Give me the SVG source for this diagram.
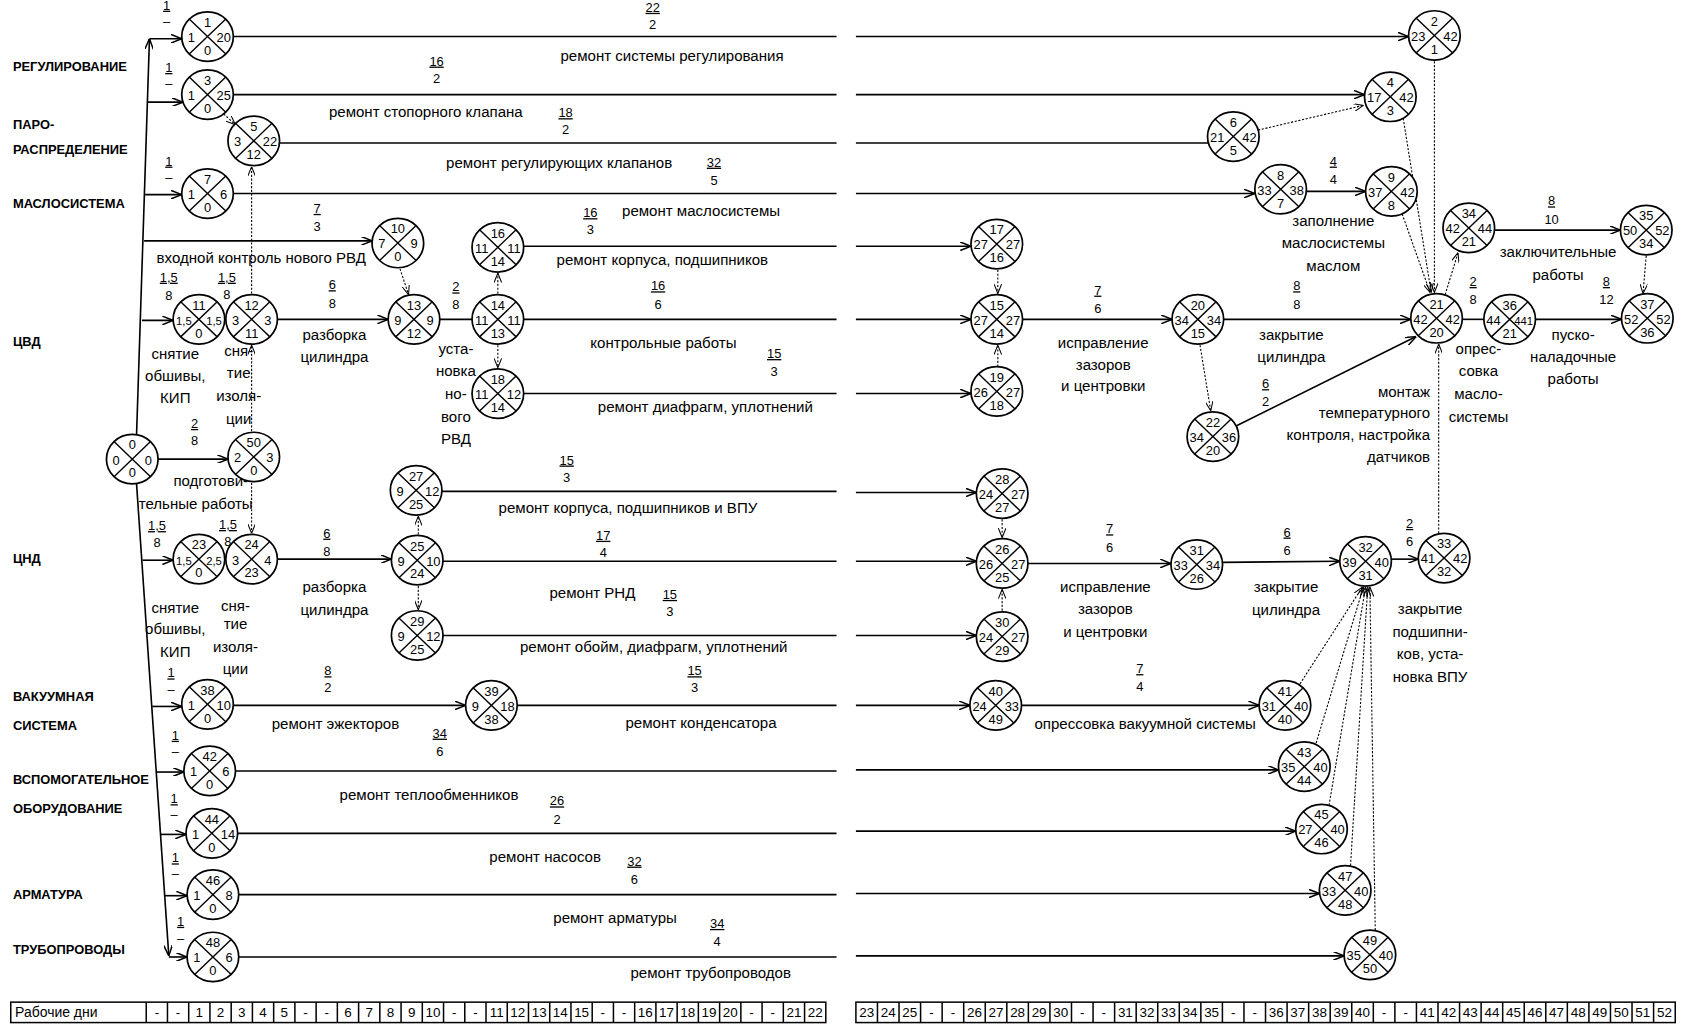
<svg xmlns="http://www.w3.org/2000/svg" xmlns:xlink="http://www.w3.org/1999/xlink" width="1686" height="1025" viewBox="0 0 1686 1025">
<style>
text{font-family:"Liberation Sans",Arial,sans-serif;fill:#000}
.nt{font-size:12px;text-anchor:middle}
.sm{font-size:10.5px}
.lb{font-size:14px;text-anchor:middle}
.rt{text-anchor:end}
.hd{font-size:12px;font-weight:bold}
.fr{font-size:12px;text-anchor:middle}
.u{text-decoration:underline}
.c{stroke:#000;stroke-width:1.5;fill:none}
.ar{marker-end:url(#a)}
.d{stroke:#000;stroke-width:1;stroke-dasharray:2 1.5;fill:none;marker-end:url(#ad)}
.tb{fill:none;stroke:#000;stroke-width:1.4}
.tt{font-size:12.5px;text-anchor:middle}
</style>
<defs>
<marker id="a" viewBox="0 0 10 8" refX="10" refY="4" markerWidth="10" markerHeight="8" orient="auto" markerUnits="userSpaceOnUse"><path d="M0,0 L10,4 L0,8" fill="none" stroke="#000" stroke-width="1.4"/></marker>
<marker id="ad" viewBox="0 0 10 8" refX="10" refY="4" markerWidth="9" markerHeight="7" orient="auto" markerUnits="userSpaceOnUse"><path d="M0,0 L10,4 L0,8" fill="none" stroke="#000" stroke-width="1.1"/></marker>
<g id="nd"><ellipse rx="24" ry="23" fill="#fff" stroke="#000" stroke-width="1.6"/><line x1="-17" y1="-16.3" x2="17" y2="16.3" stroke="#000" stroke-width="1.3"/><line x1="-17" y1="16.3" x2="17" y2="-16.3" stroke="#000" stroke-width="1.3"/></g>
</defs>
<rect width="1686" height="1025" fill="#fff"/>
<g transform="scale(1.07526)">

<g id="headers" class="hd">
<text x="12" y="66">РЕГУЛИРОВАНИЕ</text>
<text x="12" y="120">ПАРО-</text>
<text x="12" y="143">РАСПРЕДЕЛЕНИЕ</text>
<text x="12" y="193">МАСЛОСИСТЕМА</text>
<text x="12" y="322">ЦВД</text>
<text x="12" y="524">ЦНД</text>
<text x="12" y="652">ВАКУУМНАЯ</text>
<text x="12" y="679">СИСТЕМА</text>
<text x="12" y="729">ВСПОМОГАТЕЛЬНОЕ</text>
<text x="12" y="756">ОБОРУДОВАНИЕ</text>
<text x="12" y="836">АРМАТУРА</text>
<text x="12" y="887">ТРУБОПРОВОДЫ</text>
</g>

<g id="connectors">
<path class="c ar" d="M127,404 L139,36"/>
<path class="c ar" d="M127,450 L157,889"/>
<path class="c ar" d="M139,36 L169,36"/>
<path class="c ar" d="M137,95 L170,95"/>
<path class="c ar" d="M135,181 L169,181"/>
<path class="c ar" d="M134,224 L346,224"/>
<path class="c ar" d="M132,298 L161,298"/>
<path class="c ar" d="M132.6,521 L161,521"/>
<path class="c ar" d="M141.6,657 L169,657"/>
<path class="c ar" d="M145.7,718 L171,718"/>
<path class="c ar" d="M149.5,776 L173,776"/>
<path class="c ar" d="M153.3,833 L174,833"/>
<path class="c ar" d="M157,890 L174,890"/>
<path class="c ar" d="M147,427 L212,427"/>
<path class="c" d="M217,34 L778,34"/><path class="c ar" d="M796,34 L1310,34"/>
<path class="c" d="M217,88 L778,88"/><path class="c ar" d="M796,88 L1269,88"/>
<path class="c" d="M260,133 L778,133"/><path class="c" d="M796,133 L1124,133"/>
<path class="c" d="M217,180 L778,180"/><path class="c ar" d="M796,180 L1167,180"/>
<path class="c ar" d="M1215,178 L1270,178"/>
<path class="c" d="M487,229 L778,229"/><path class="c ar" d="M796,229 L903,229"/>
<path class="c ar" d="M1390,214 L1507,214"/>
<path class="c ar" d="M258,297 L361,297"/>
<path class="c" d="M409,297 L439,297"/>
<path class="c" d="M487,297 L778,297"/><path class="c ar" d="M796,297 L903,297"/>
<path class="c ar" d="M951,297 L1090,297"/>
<path class="c ar" d="M1138,297 L1312,297"/>
<path class="c" d="M1360,297 L1380,297"/>
<path class="c ar" d="M1428,297 L1508,297"/>
<path class="c" d="M487,366 L778,366"/><path class="c ar" d="M796,366 L903,366"/>
<path class="c ar" d="M1150,396 L1317,313"/>
<path class="c" d="M411,457 L778,457"/><path class="c ar" d="M796,458 L908,458"/>
<path class="c ar" d="M258,520 L364,520"/>
<path class="c" d="M412,522 L778,522"/><path class="c ar" d="M796,522 L908,522"/>
<path class="c" d="M412,591 L778,591"/><path class="c ar" d="M796,591 L908,591"/>
<path class="c ar" d="M956,524 L1089,524"/>
<path class="c ar" d="M1137,523 L1246,522"/>
<path class="c ar" d="M1294,520 L1319,520"/>
<path class="c ar" d="M217,656 L433,656"/>
<path class="c" d="M481,656 L778,656"/><path class="c ar" d="M796,656 L902,656"/>
<path class="c ar" d="M950,656 L1171,656"/>
<path class="c" d="M219,717 L778,717"/><path class="c ar" d="M796,716 L1189,716"/>
<path class="c" d="M221,775 L778,775"/><path class="c ar" d="M796,773 L1205,773"/>
<path class="c" d="M222,832 L778,832"/><path class="c ar" d="M796,831 L1227,831"/>
<path class="c" d="M222,890 L778,890"/><path class="c ar" d="M796,889 L1250,889"/>
<path class="d" d="M208,106 L219,116"/>
<path class="d" d="M234,273 L234,155"/>
<path class="d" d="M234,401 L234,321"/>
<path class="d" d="M234,449 L234,496"/>
<path class="d" d="M372,250 L380,274"/>
<path class="d" d="M463,273 L463,254"/>
<path class="d" d="M463,321 L463,342"/>
<path class="d" d="M928,251 L928,273"/>
<path class="d" d="M928,341 L928,321"/>
<path class="d" d="M389,497 L389,480"/>
<path class="d" d="M389,545 L389,567"/>
<path class="d" d="M932,483 L932,500"/>
<path class="d" d="M932,568 L932,548"/>
<path class="d" d="M1116,321 L1126,382"/>
<path class="d" d="M1170,121 L1268,98"/>
<path class="d" d="M1334,57 L1334,272"/>
<path class="d" d="M1305,110 L1331,272"/>
<path class="d" d="M1304,199 L1330,272"/>
<path class="d" d="M1344,274 L1356,235"/>
<path class="d" d="M1531,238 L1528,273"/>
<path class="d" d="M1338,496 L1338,320"/>
<path class="d" d="M1209,636 L1267,546"/>
<path class="d" d="M1224,691 L1268,546"/>
<path class="d" d="M1236,749 L1270,546"/>
<path class="d" d="M1256,805 L1272,546"/>
<path class="d" d="M1279,865 L1274,546"/>
</g>

<g id="nodes" class="nt">
<g id="n0" transform="translate(123,427)"><use href="#nd"/><text y="-9">0</text><text x="-15" y="5">0</text><text x="15" y="5">0</text><text y="17">0</text></g>
<g id="n50" transform="translate(236,425)"><use href="#nd"/><text y="-9">50</text><text x="-15" y="5">2</text><text x="15" y="5">3</text><text y="17">0</text></g>
<g id="n1" transform="translate(193,34)"><use href="#nd"/><text y="-9">1</text><text x="-15" y="5">1</text><text x="15" y="5">20</text><text y="17">0</text></g>
<g id="n2" transform="translate(1334,33)"><use href="#nd"/><text y="-9">2</text><text x="-15" y="5">23</text><text x="15" y="5">42</text><text y="17">1</text></g>
<g id="n3" transform="translate(193,88)"><use href="#nd"/><text y="-9">3</text><text x="-15" y="5">1</text><text x="15" y="5">25</text><text y="17">0</text></g>
<g id="n4" transform="translate(1293,90)"><use href="#nd"/><text y="-9">4</text><text x="-15" y="5">17</text><text x="15" y="5">42</text><text y="17">3</text></g>
<g id="n5" transform="translate(236,131)"><use href="#nd"/><text y="-9">5</text><text x="-15" y="5">3</text><text x="15" y="5">22</text><text y="17">12</text></g>
<g id="n6" transform="translate(1147,127)"><use href="#nd"/><text y="-9">6</text><text x="-15" y="5">21</text><text x="15" y="5">42</text><text y="17">5</text></g>
<g id="n7" transform="translate(193,180)"><use href="#nd"/><text y="-9">7</text><text x="-15" y="5">1</text><text x="15" y="5">6</text><text y="17">0</text></g>
<g id="n8" transform="translate(1191,176)"><use href="#nd"/><text y="-9">8</text><text x="-15" y="5">33</text><text x="15" y="5">38</text><text y="17">7</text></g>
<g id="n9" transform="translate(1294,178)"><use href="#nd"/><text y="-9">9</text><text x="-15" y="5">37</text><text x="15" y="5">42</text><text y="17">8</text></g>
<g id="n10" transform="translate(370,226)"><use href="#nd"/><text y="-9">10</text><text x="-15" y="5">7</text><text x="15" y="5">9</text><text y="17">0</text></g>
<g id="n16" transform="translate(463,230)"><use href="#nd"/><text y="-9">16</text><text x="-15" y="5">11</text><text x="15" y="5">11</text><text y="17">14</text></g>
<g id="n17" transform="translate(927,227)"><use href="#nd"/><text y="-9">17</text><text x="-15" y="5">27</text><text x="15" y="5">27</text><text y="17">16</text></g>
<g id="n34" transform="translate(1366,212)"><use href="#nd"/><text y="-9">34</text><text x="-15" y="5">42</text><text x="15" y="5">44</text><text y="17">21</text></g>
<g id="n35" transform="translate(1531,214)"><use href="#nd"/><text y="-9">35</text><text x="-15" y="5">50</text><text x="15" y="5">52</text><text y="17">34</text></g>
<g id="n11" transform="translate(185,297)"><use href="#nd"/><text y="-9">11</text><text class="sm" x="-14" y="5">1,5</text><text class="sm" x="14" y="5">1,5</text><text y="17">0</text></g>
<g id="n12" transform="translate(234,297)"><use href="#nd"/><text y="-9">12</text><text x="-15" y="5">3</text><text x="15" y="5">3</text><text y="17">11</text></g>
<g id="n13" transform="translate(385,297)"><use href="#nd"/><text y="-9">13</text><text x="-15" y="5">9</text><text x="15" y="5">9</text><text y="17">12</text></g>
<g id="n14" transform="translate(463,297)"><use href="#nd"/><text y="-9">14</text><text x="-15" y="5">11</text><text x="15" y="5">11</text><text y="17">13</text></g>
<g id="n15" transform="translate(927,297)"><use href="#nd"/><text y="-9">15</text><text x="-15" y="5">27</text><text x="15" y="5">27</text><text y="17">14</text></g>
<g id="n20" transform="translate(1114,297)"><use href="#nd"/><text y="-9">20</text><text x="-15" y="5">34</text><text x="15" y="5">34</text><text y="17">15</text></g>
<g id="n21" transform="translate(1336,296)"><use href="#nd"/><text y="-9">21</text><text x="-15" y="5">42</text><text x="15" y="5">42</text><text y="17">20</text></g>
<g id="n36" transform="translate(1404,297)"><use href="#nd"/><text y="-9">36</text><text x="-15" y="5">44</text><text class="sm" x="13" y="5">441</text><text y="17">21</text></g>
<g id="n37" transform="translate(1532,296)"><use href="#nd"/><text y="-9">37</text><text x="-15" y="5">52</text><text x="15" y="5">52</text><text y="17">36</text></g>
<g id="n18" transform="translate(463,366)"><use href="#nd"/><text y="-9">18</text><text x="-15" y="5">11</text><text x="15" y="5">12</text><text y="17">14</text></g>
<g id="n19" transform="translate(927,364)"><use href="#nd"/><text y="-9">19</text><text x="-15" y="5">26</text><text x="15" y="5">27</text><text y="17">18</text></g>
<g id="n22" transform="translate(1128,406)"><use href="#nd"/><text y="-9">22</text><text x="-15" y="5">34</text><text x="15" y="5">36</text><text y="17">20</text></g>
<g id="n27" transform="translate(387,456)"><use href="#nd"/><text y="-9">27</text><text x="-15" y="5">9</text><text x="15" y="5">12</text><text y="17">25</text></g>
<g id="n28" transform="translate(932,459)"><use href="#nd"/><text y="-9">28</text><text x="-15" y="5">24</text><text x="15" y="5">27</text><text y="17">27</text></g>
<g id="n23" transform="translate(185,520)"><use href="#nd"/><text y="-9">23</text><text class="sm" x="-14" y="5">1,5</text><text class="sm" x="14" y="5">2,5</text><text y="17">0</text></g>
<g id="n24" transform="translate(234,520)"><use href="#nd"/><text y="-9">24</text><text x="-15" y="5">3</text><text x="15" y="5">4</text><text y="17">23</text></g>
<g id="n25" transform="translate(388,521)"><use href="#nd"/><text y="-9">25</text><text x="-15" y="5">9</text><text x="15" y="5">10</text><text y="17">24</text></g>
<g id="n26" transform="translate(932,524)"><use href="#nd"/><text y="-9">26</text><text x="-15" y="5">26</text><text x="15" y="5">27</text><text y="17">25</text></g>
<g id="n31" transform="translate(1113,525)"><use href="#nd"/><text y="-9">31</text><text x="-15" y="5">33</text><text x="15" y="5">34</text><text y="17">26</text></g>
<g id="n32" transform="translate(1270,522)"><use href="#nd"/><text y="-9">32</text><text x="-15" y="5">39</text><text x="15" y="5">40</text><text y="17">31</text></g>
<g id="n33" transform="translate(1343,519)"><use href="#nd"/><text y="-9">33</text><text x="-15" y="5">41</text><text x="15" y="5">42</text><text y="17">32</text></g>
<g id="n29" transform="translate(388,591)"><use href="#nd"/><text y="-9">29</text><text x="-15" y="5">9</text><text x="15" y="5">12</text><text y="17">25</text></g>
<g id="n30" transform="translate(932,592)"><use href="#nd"/><text y="-9">30</text><text x="-15" y="5">24</text><text x="15" y="5">27</text><text y="17">29</text></g>
<g id="n38" transform="translate(193,655)"><use href="#nd"/><text y="-9">38</text><text x="-15" y="5">1</text><text x="15" y="5">10</text><text y="17">0</text></g>
<g id="n39" transform="translate(457,656)"><use href="#nd"/><text y="-9">39</text><text x="-15" y="5">9</text><text x="15" y="5">18</text><text y="17">38</text></g>
<g id="n40" transform="translate(926,656)"><use href="#nd"/><text y="-9">40</text><text x="-15" y="5">24</text><text x="15" y="5">33</text><text y="17">49</text></g>
<g id="n41" transform="translate(1195,656)"><use href="#nd"/><text y="-9">41</text><text x="-15" y="5">31</text><text x="15" y="5">40</text><text y="17">40</text></g>
<g id="n42" transform="translate(195,717)"><use href="#nd"/><text y="-9">42</text><text x="-15" y="5">1</text><text x="15" y="5">6</text><text y="17">0</text></g>
<g id="n43" transform="translate(1213,713)"><use href="#nd"/><text y="-9">43</text><text x="-15" y="5">35</text><text x="15" y="5">40</text><text y="17">44</text></g>
<g id="n44" transform="translate(197,775)"><use href="#nd"/><text y="-9">44</text><text x="-15" y="5">1</text><text x="15" y="5">14</text><text y="17">0</text></g>
<g id="n45" transform="translate(1229,771)"><use href="#nd"/><text y="-9">45</text><text x="-15" y="5">27</text><text x="15" y="5">40</text><text y="17">46</text></g>
<g id="n46" transform="translate(198,832)"><use href="#nd"/><text y="-9">46</text><text x="-15" y="5">1</text><text x="15" y="5">8</text><text y="17">0</text></g>
<g id="n47" transform="translate(1251,828)"><use href="#nd"/><text y="-9">47</text><text x="-15" y="5">33</text><text x="15" y="5">40</text><text y="17">48</text></g>
<g id="n48" transform="translate(198,890)"><use href="#nd"/><text y="-9">48</text><text x="-15" y="5">1</text><text x="15" y="5">6</text><text y="17">0</text></g>
<g id="n49" transform="translate(1274,888)"><use href="#nd"/><text y="-9">49</text><text x="-15" y="5">35</text><text x="15" y="5">40</text><text y="17">50</text></g>
</g>

<g id="fractions" class="fr">
<text class="u" x="607" y="11">22</text><text x="607" y="27">2</text>
<text class="u" x="406" y="61">16</text><text x="406" y="77">2</text>
<text class="u" x="526" y="109">18</text><text x="526" y="125">2</text>
<text class="u" x="664" y="155">32</text><text x="664" y="172">5</text>
<text class="u" x="549" y="202">16</text><text x="549" y="218">3</text>
<text class="u" x="295" y="198">7</text><text x="295" y="215">3</text>
<text class="u" x="1240" y="154">4</text><text x="1240" y="171">4</text>
<text class="u" x="1443" y="191">8</text><text x="1443" y="208">10</text>
<text class="u" x="155" y="9">1</text><text x="155" y="24">–</text>
<text class="u" x="157" y="67">1</text><text x="157" y="82">–</text>
<text class="u" x="157" y="154">1</text><text x="157" y="169">–</text>
<text class="u" x="157" y="262">1,5</text><text x="157" y="279">8</text>
<text class="u" x="211" y="262">1,5</text><text x="211" y="278">8</text>
<text class="u" x="309" y="269">6</text><text x="309" y="286">8</text>
<text class="u" x="424" y="271">2</text><text x="424" y="287">8</text>
<text class="u" x="612" y="270">16</text><text x="612" y="287">6</text>
<text class="u" x="720" y="333">15</text><text x="720" y="350">3</text>
<text class="u" x="1021" y="274">7</text><text x="1021" y="291">6</text>
<text class="u" x="1206" y="270">8</text><text x="1206" y="287">8</text>
<text class="u" x="1177" y="361">6</text><text x="1177" y="378">2</text>
<text class="u" x="1370" y="266">2</text><text x="1370" y="283">8</text>
<text class="u" x="1494" y="266">8</text><text x="1494" y="283">12</text>
<text class="u" x="181" y="398">2</text><text x="181" y="414">8</text>
<text class="u" x="527" y="432">15</text><text x="527" y="448">3</text>
<text class="u" x="146" y="493">1,5</text><text x="146" y="509">8</text>
<text class="u" x="212" y="492">1,5</text><text x="212" y="508">8</text>
<text class="u" x="304" y="500">6</text><text x="304" y="517">8</text>
<text class="u" x="561" y="502">17</text><text x="561" y="518">4</text>
<text class="u" x="623" y="557">15</text><text x="623" y="573">3</text>
<text class="u" x="1032" y="496">7</text><text x="1032" y="513">6</text>
<text class="u" x="1197" y="499">6</text><text x="1197" y="516">6</text>
<text class="u" x="1311" y="491">2</text><text x="1311" y="508">6</text>
<text class="u" x="159" y="630">1</text><text x="159" y="645">–</text>
<text class="u" x="305" y="628">8</text><text x="305" y="644">2</text>
<text class="u" x="646" y="628">15</text><text x="646" y="644">3</text>
<text class="u" x="1060" y="626">7</text><text x="1060" y="643">4</text>
<text class="u" x="409" y="686">34</text><text x="409" y="703">6</text>
<text class="u" x="163" y="688">1</text><text x="163" y="703">–</text>
<text class="u" x="518" y="749">26</text><text x="518" y="766">2</text>
<text class="u" x="162" y="747">1</text><text x="162" y="762">–</text>
<text class="u" x="590" y="805">32</text><text x="590" y="822">6</text>
<text class="u" x="163" y="802">1</text><text x="163" y="817">–</text>
<text class="u" x="667" y="863">34</text><text x="667" y="880">4</text>
<text class="u" x="168" y="861">1</text><text x="168" y="877">–</text>
</g>

<g id="labels" class="lb">
<text x="625" y="57">ремонт системы регулирования</text>
<text x="396" y="109">ремонт стопорного клапана</text>
<text x="520" y="156">ремонт регулирующих клапанов</text>
<text x="652" y="201">ремонт маслосистемы</text>
<text x="243" y="245">входной контроль нового РВД</text>
<text x="616" y="246">ремонт корпуса, подшипников</text>
<text x="1240" y="210">заполнение</text><text x="1240" y="231">маслосистемы</text><text x="1240" y="252">маслом</text>
<text x="1449" y="239">заключительные</text><text x="1449" y="260">работы</text>
<text x="163" y="334">снятие</text><text x="163" y="354">обшивы,</text><text x="163" y="375">КИП</text>
<text x="222" y="331">сня-</text><text x="222" y="352">тие</text><text x="222" y="373">изоля-</text><text x="222" y="394">ции</text>
<text x="311" y="316">разборка</text><text x="311" y="337">цилиндра</text>
<text x="424" y="329">уста-</text><text x="424" y="350">новка</text><text x="424" y="371">но-</text><text x="424" y="392">вого</text><text x="424" y="413">РВД</text>
<text x="617" y="324">контрольные работы</text>
<text x="656" y="383">ремонт диафрагм, уплотнений</text>
<text x="1026" y="324">исправление</text><text x="1026" y="344">зазоров</text><text x="1026" y="364">и центровки</text>
<text x="1201" y="316">закрытие</text><text x="1201" y="337">цилиндра</text>
<text x="1375" y="329">опрес-</text><text x="1375" y="350">совка</text><text x="1375" y="371">масло-</text><text x="1375" y="392">системы</text>
<text x="1463" y="316">пуско-</text><text x="1463" y="337">наладочные</text><text x="1463" y="357">работы</text>
<text class="rt" x="1330" y="369">монтаж</text><text class="rt" x="1330" y="389">температурного</text><text class="rt" x="1330" y="409">контроля, настройка</text><text class="rt" x="1330" y="430">датчиков</text>
<text x="196" y="452">подготови-</text><text x="182" y="473">тельные работы</text>
<text x="584" y="477">ремонт корпуса, подшипников и ВПУ</text>
<text x="163" y="570">снятие</text><text x="163" y="590">обшивы,</text><text x="163" y="611">КИП</text>
<text x="219" y="568">сня-</text><text x="219" y="585">тие</text><text x="219" y="606">изоля-</text><text x="219" y="627">ции</text>
<text x="311" y="551">разборка</text><text x="311" y="572">цилиндра</text>
<text x="551" y="556">ремонт РНД</text>
<text x="608" y="606">ремонт обойм, диафрагм, уплотнений</text>
<text x="1028" y="551">исправление</text><text x="1028" y="571">зазоров</text><text x="1028" y="592">и центровки</text>
<text x="1196" y="551">закрытие</text><text x="1196" y="572">цилиндра</text>
<text x="1330" y="571">закрытие</text><text x="1330" y="592">подшипни-</text><text x="1330" y="613">ков, уста-</text><text x="1330" y="634">новка ВПУ</text>
<text x="312" y="678">ремонт эжекторов</text>
<text x="652" y="677">ремонт конденсатора</text>
<text x="1065" y="678">опрессовка вакуумной системы</text>
<text x="399" y="744">ремонт теплообменников</text>
<text x="507" y="802">ремонт насосов</text>
<text x="572" y="858">ремонт арматуры</text>
<text x="661" y="910">ремонт трубопроводов</text>
</g>

<g id="table-left">
<rect class="tb" x="10" y="932" width="758" height="19"/>
<path class="tb" d="M136,932v19M155.75,932v19M175.5,932v19M195.25,932v19M215,932v19M234.75,932v19M254.5,932v19M274.25,932v19M294,932v19M313.75,932v19M333.5,932v19M353.25,932v19M373,932v19M392.75,932v19M412.5,932v19M432.25,932v19M452,932v19M471.75,932v19M491.5,932v19M511.25,932v19M531,932v19M550.75,932v19M570.5,932v19M590.25,932v19M610,932v19M629.75,932v19M649.5,932v19M669.25,932v19M689,932v19M708.75,932v19M728.5,932v19M748.25,932v19"/>
<text x="14" y="946" style="font-size:13px">Рабочие дни</text>
<g class="tt">
<text x="145.9" y="946">-</text><text x="165.6" y="946">-</text><text x="185.4" y="946">1</text><text x="205.1" y="946">2</text><text x="224.9" y="946">3</text><text x="244.6" y="946">4</text><text x="264.4" y="946">5</text><text x="284.1" y="946">-</text><text x="303.9" y="946">-</text><text x="323.6" y="946">6</text><text x="343.4" y="946">7</text><text x="363.1" y="946">8</text><text x="382.9" y="946">9</text><text x="402.6" y="946">10</text><text x="422.4" y="946">-</text><text x="442.1" y="946">-</text><text x="461.9" y="946">11</text><text x="481.6" y="946">12</text><text x="501.4" y="946">13</text><text x="521.1" y="946">14</text><text x="540.9" y="946">15</text><text x="560.6" y="946">-</text><text x="580.4" y="946">-</text><text x="600.1" y="946">16</text><text x="619.9" y="946">17</text><text x="639.6" y="946">18</text><text x="659.4" y="946">19</text><text x="679.1" y="946">20</text><text x="698.9" y="946">-</text><text x="718.6" y="946">-</text><text x="738.4" y="946">21</text><text x="758.1" y="946">22</text>
</g>
</g>

<g id="table-right">
<rect class="tb" x="796" y="932" width="762" height="19"/>
<path class="tb" d="M816.05,932v19M836.1,932v19M856.15,932v19M876.2,932v19M896.25,932v19M916.3,932v19M936.35,932v19M956.4,932v19M976.45,932v19M996.5,932v19M1016.55,932v19M1036.6,932v19M1056.65,932v19M1076.7,932v19M1096.75,932v19M1116.8,932v19M1136.85,932v19M1156.9,932v19M1176.95,932v19M1197,932v19M1217.05,932v19M1237.1,932v19M1257.15,932v19M1277.2,932v19M1297.25,932v19M1317.3,932v19M1337.35,932v19M1357.4,932v19M1377.45,932v19M1397.5,932v19M1417.55,932v19M1437.6,932v19M1457.65,932v19M1477.7,932v19M1497.75,932v19M1517.8,932v19M1537.85,932v19"/>
<g class="tt">
<text x="806" y="946">23</text><text x="826.1" y="946">24</text><text x="846.1" y="946">25</text><text x="866.2" y="946">-</text><text x="886.2" y="946">-</text><text x="906.3" y="946">26</text><text x="926.3" y="946">27</text><text x="946.4" y="946">28</text><text x="966.4" y="946">29</text><text x="986.5" y="946">30</text><text x="1006.5" y="946">-</text><text x="1026.6" y="946">-</text><text x="1046.6" y="946">31</text><text x="1066.7" y="946">32</text><text x="1086.7" y="946">33</text><text x="1106.8" y="946">34</text><text x="1126.8" y="946">35</text><text x="1146.9" y="946">-</text><text x="1166.9" y="946">-</text><text x="1187" y="946">36</text><text x="1207" y="946">37</text><text x="1227.1" y="946">38</text><text x="1247.1" y="946">39</text><text x="1267.2" y="946">40</text><text x="1287.2" y="946">-</text><text x="1307.3" y="946">-</text><text x="1327.3" y="946">41</text><text x="1347.4" y="946">42</text><text x="1367.4" y="946">43</text><text x="1387.5" y="946">44</text><text x="1407.5" y="946">45</text><text x="1427.6" y="946">46</text><text x="1447.6" y="946">47</text><text x="1467.7" y="946">48</text><text x="1487.7" y="946">49</text><text x="1507.8" y="946">50</text><text x="1527.8" y="946">51</text><text x="1547.9" y="946">52</text>
</g>
</g>

</g>
</svg>
